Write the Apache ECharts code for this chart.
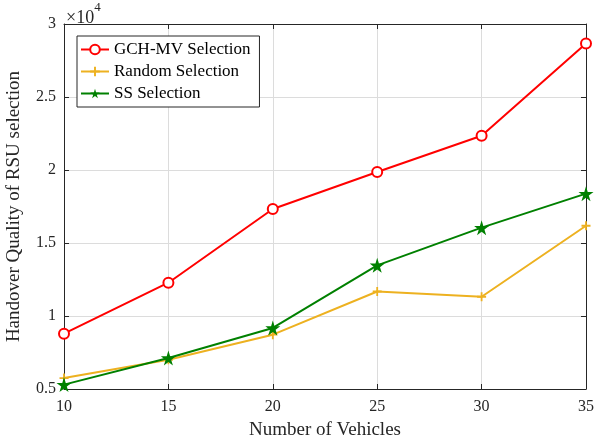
<!DOCTYPE html>
<html><head><meta charset="utf-8">
<script src="https://cdn.jsdelivr.net/npm/echarts@6/dist/echarts.min.js"></script>
<style>html,body{margin:0;padding:0;background:#fff}#c{width:595px;height:445px}</style>
</head><body><div id="c"></div>
<script>
const categories = [10, 15, 20, 25, 30, 35];
const gchmv = [8790, 12280, 17330, 19860, 22350, 28670];
const randomSel = [5750, 7000, 8720, 11680, 11320, 16180];
const ssSel = [5300, 7120, 9180, 13470, 16050, 18380];
const yTicks = [5000, 30000, 5000];

const pair = a => a.map((v, i) => [categories[i], v]);
const FONT = 'Liberation Serif';
const star = 'path://M50,0 L61,35 L98,35 L68,57 L79,91 L50,70 L21,91 L32,57 L2,35 L39,35 Z';
const plus = 'path://M4,0 H6 V4 H10 V6 H6 V10 H4 V6 H0 V4 H4 Z';

const chart = echarts.init(document.getElementById('c'));
const axisCommon = {
  axisLine: {show: true, lineStyle: {color: '#262626', width: 1}},
  axisTick: {show: true, inside: true, length: 5, lineStyle: {color: '#262626'}},
};
chart.setOption({
  animation: false,
  grid: {left: 64, right: 9, top: 24, bottom: 56, outerBoundsMode: 'none', containLabel: false},
  xAxis: [
    Object.assign({type: 'value', min: 10, max: 35, interval: 5,
      name: 'Number of Vehicles', nameLocation: 'middle', nameGap: 32,
      nameTextStyle: {fontFamily: FONT, fontSize: 19, color: '#262626'},
      axisLabel: {fontFamily: FONT, fontSize: 16, color: '#262626', margin: 10},
      splitLine: {show: true, lineStyle: {color: '#dcdcdc', width: 1}}}, axisCommon),
    Object.assign({type: 'value', min: 10, max: 35, interval: 5, position: 'top',
      axisLabel: {show: false}, splitLine: {show: false}}, axisCommon)
  ],
  yAxis: [
    Object.assign({type: 'value', min: yTicks[0], max: yTicks[1], interval: yTicks[2],
      name: 'Handover Quality of RSU selection', nameLocation: 'middle', nameGap: 40,
      nameTextStyle: {fontFamily: FONT, fontSize: 19, color: '#262626'},
      axisLabel: {fontFamily: FONT, fontSize: 16, color: '#262626', margin: 8,
        formatter: v => String(v / 10000)},
      splitLine: {show: true, lineStyle: {color: '#dcdcdc', width: 1}}}, axisCommon),
    Object.assign({type: 'value', min: yTicks[0], max: yTicks[1], interval: yTicks[2], position: 'right',
      axisLabel: {show: false}, splitLine: {show: false}}, axisCommon)
  ],
  legend: {
    orient: 'vertical', left: 77, top: 36, width: 182,
    backgroundColor: '#fff', borderColor: '#262626', borderWidth: 1,
    padding: [5, 9, 5, 3], itemGap: 5, itemWidth: 28, itemHeight: 12,
    textStyle: {fontFamily: FONT, fontSize: 17, color: '#000', lineHeight: 17},
    data: ['GCH-MV Selection', 'Random Selection', 'SS Selection']
  },
  graphic: [{
    type: 'text', left: 66, top: 1,
    style: {
      text: '{a|×10}{b|4}', fill: '#262626',
      rich: {
        a: {fontFamily: FONT, fontSize: 18, fill: '#262626', verticalAlign: 'bottom', padding: [8, 0, 0, 0]},
        b: {fontFamily: FONT, fontSize: 13, fill: '#262626', verticalAlign: 'top'}
      }
    }
  }],
  series: [
    {name: 'GCH-MV Selection', type: 'line', data: pair(gchmv), color: '#ff0000',
      lineStyle: {width: 2, color: '#ff0000'}, symbol: 'circle', symbolSize: 10,
      itemStyle: {color: '#fff', borderColor: '#ff0000', borderWidth: 2}, z: 3},
    {name: 'Random Selection', type: 'line', data: pair(randomSel), color: '#EDB120',
      lineStyle: {width: 2, color: '#EDB120'}, symbol: plus, symbolSize: 9,
      itemStyle: {color: '#EDB120'}, z: 2},
    {name: 'SS Selection', type: 'line', data: pair(ssSel), color: '#008000',
      lineStyle: {width: 2, color: '#008000'}, symbol: star, symbolSize: 15,
      itemStyle: {color: '#008000'}, z: 4}
  ]
});
</script></body></html>
